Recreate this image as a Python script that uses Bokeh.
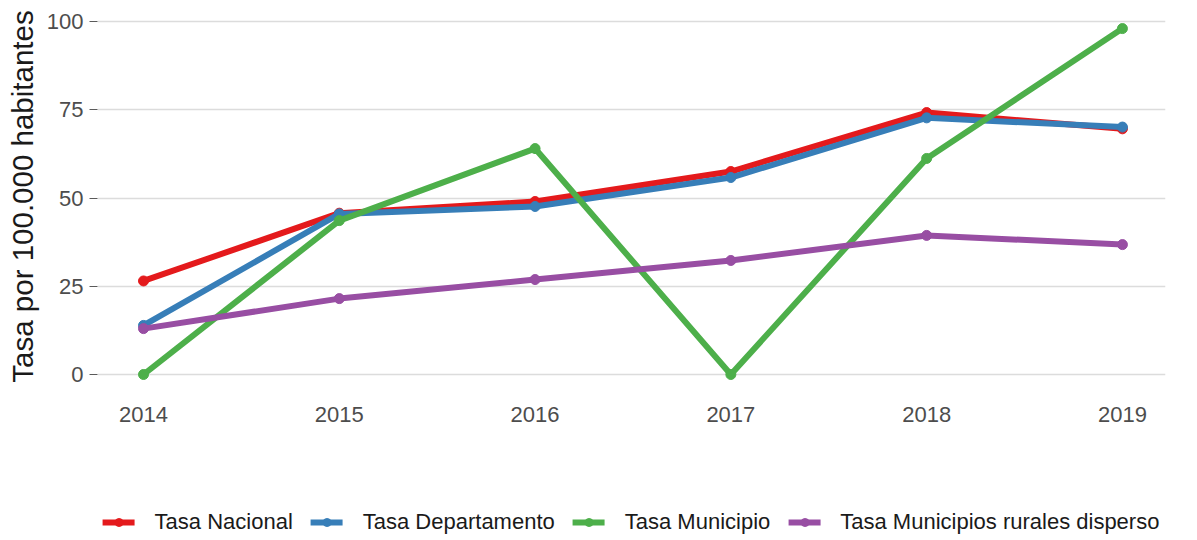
from bokeh.plotting import figure
from bokeh.layouts import column
from bokeh.models import FixedTicker, Legend, LegendItem, Range1d
from bokeh.embed import file_html
from bokeh.resources import INLINE

years = [2014, 2015, 2016, 2017, 2018, 2019]
nacional = [26.5, 45.7, 49.0, 57.5, 74.2, 69.6]
departamento = [13.9, 45.5, 47.6, 55.8, 72.7, 70.1]
municipio = [0.0, 43.6, 64.0, 0.0, 61.2, 98.0]
rural = [13.0, 21.5, 26.9, 32.3, 39.4, 36.8]

series_names = ["Tasa Nacional", "Tasa Departamento", "Tasa Municipio",
                "Tasa Municipios rurales disperso"]
series_values = [nacional, departamento, municipio, rural]
colors = ["#E41A1C", "#377EB8", "#4DAF4A", "#984EA3"]
y_ticks = [0, 25, 50, 75, 100]

FONT = "Liberation Sans"

# ---- main chart ----
p = figure(width=1197, height=504, output_backend="svg", toolbar_location=None,
           x_range=Range1d(2013.765, 2019.22), y_range=Range1d(-5.1, 105.95),
           min_border_left=97, min_border_right=32, min_border_top=0,
           min_border_bottom=112)
p.outline_line_color = None
p.background_fill_color = "white"
p.border_fill_color = "white"

for vals, col in zip(series_values, colors):
    p.line(years, vals, line_color=col, line_width=6, line_cap="round",
           line_join="round")
    p.scatter(years, vals, size=10, fill_color=col, line_color=col)

p.xaxis.ticker = FixedTicker(ticks=years)
p.xaxis.axis_line_color = None
p.xaxis.major_tick_line_color = None
p.xaxis.minor_tick_line_color = None
p.xaxis.major_label_text_font = FONT
p.xaxis.major_label_text_font_size = "22px"
p.xaxis.major_label_text_color = "#4d4d4d"
p.xaxis.major_label_standoff = 8

p.yaxis.ticker = FixedTicker(ticks=y_ticks)
p.yaxis.axis_line_color = None
p.yaxis.major_tick_in = 0
p.yaxis.major_tick_out = 8
p.yaxis.major_tick_line_color = "#5a5a5a"
p.yaxis.minor_tick_line_color = None
p.yaxis.major_label_text_font = FONT
p.yaxis.major_label_text_font_size = "22px"
p.yaxis.major_label_text_color = "#4d4d4d"
p.yaxis.major_label_standoff = 6
p.yaxis.axis_label = "Tasa por 100.000 habitantes"
p.yaxis.axis_label_text_font = FONT
p.yaxis.axis_label_text_font_size = "29.5px"
p.yaxis.axis_label_text_font_style = "normal"
p.yaxis.axis_label_text_color = "#1a1a1a"
p.yaxis.axis_label_standoff = 5

p.xgrid.grid_line_color = None
p.ygrid.grid_line_color = "#dcdcdc"
p.ygrid.grid_line_width = 1.5

# ---- legend strip (legend-only figure, hidden renderers) ----
p2 = figure(width=1197, height=36, output_backend="svg", toolbar_location=None,
            x_axis_location=None, y_axis_location=None,
            min_border_left=97, min_border_right=32, min_border_top=0,
            min_border_bottom=0)
p2.outline_line_color = None
p2.grid.visible = False
items = []
for name, vals, col in zip(series_names, series_values, colors):
    r1 = p2.line(years, vals, line_color=col, line_width=6, line_cap="round",
                 visible=False)
    r2 = p2.scatter(years, vals, size=10, fill_color=col, line_color=col,
                    visible=False)
    items.append(LegendItem(label=name, renderers=[r1, r2]))

legend = Legend(items=items, orientation="horizontal", location="center")
legend.inactive_fill_alpha = 0
legend.background_fill_alpha = 0
legend.border_line_color = None
legend.padding = 0
legend.margin = 0
legend.glyph_width = 32
legend.glyph_height = 20
legend.label_standoff = 20
legend.spacing = 18
legend.label_text_font = FONT
legend.label_text_font_size = "22px"
legend.label_text_color = "#1a1a1a"
p2.add_layout(legend)

layout = column(p, p2, spacing=0)
open("out.html", "w").write(file_html(layout, INLINE))
